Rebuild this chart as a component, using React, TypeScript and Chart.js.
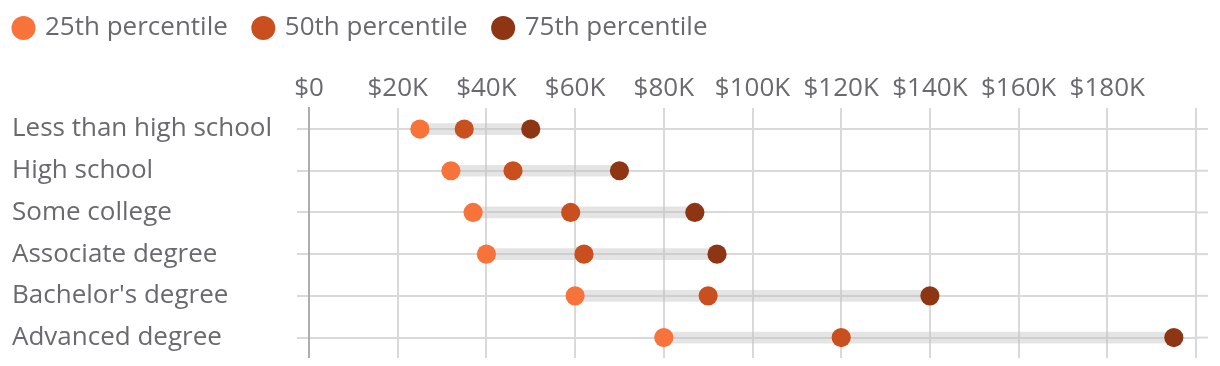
import React, { useEffect, useRef } from "react";
import { Chart, registerables } from "chart.js";

Chart.register(...registerables);

const categories = [
  "Less than high school",
  "High school",
  "Some college",
  "Associate degree",
  "Bachelor's degree",
  "Advanced degree",
];
const p25 = [25000, 32000, 37000, 40000, 60000, 80000];
const p50 = [35000, 46000, 59000, 62000, 90000, 120000];
const p75 = [50000, 70000, 87000, 92000, 140000, 195000];
const seriesNames = ["25th percentile", "50th percentile", "75th percentile"];
const seriesColors = ["#F7733A", "#CA4F1F", "#8E3614"];
const xMin = 0;
const xMax = 200000;
const xStep = 20000;

const FONT = "'Open Sans', sans-serif";
const FS = 26;
const TEXT = "#686a6e";
const GRID = "#d9d9d9";

const gridExtend = {
  id: "gridExtend",
  afterLayout(chart: any) {
    if (chart.legend) chart.legend.left -= 24;
  },
  beforeDatasetsDraw(chart: any) {
    const { ctx, chartArea, scales } = chart;
    const y = scales.y;
    ctx.save();
    ctx.strokeStyle = GRID;
    ctx.lineWidth = 2;
    categories.forEach((_, i) => {
      const py = y.getPixelForValue(i);
      ctx.beginPath();
      ctx.moveTo(chartArea.right, py);
      ctx.lineTo(chartArea.right + 12, py);
      ctx.stroke();
    });
    ctx.restore();
  },
};

export default function App() {
  const ref = useRef<HTMLCanvasElement | null>(null);
  useEffect(() => {
    if (!ref.current) return;
    const sets = [p25, p50, p75];
    let alive = true;
    const chart = new Chart(ref.current, {
      type: "bar",
      data: {
        labels: categories,
        datasets: [
          {
            type: "bar",
            label: "range",
            data: categories.map((_, i) => [p25[i], p75[i]]),
            backgroundColor: "rgba(190,190,190,0.42)",
            borderWidth: 0,
            borderSkipped: false,
            barThickness: 11,
            order: 10,
          } as any,
          ...sets.map((s, k) => ({
            type: "scatter",
            label: seriesNames[k],
            data: s.map((v, i) => ({ x: v, y: categories[i] })),
            backgroundColor: seriesColors[k],
            borderColor: seriesColors[k],
            borderWidth: 0,
            pointRadius: 9.6,
            pointHoverRadius: 9.6,
            order: 1,
          })) as any,
        ],
      },
      options: {
        indexAxis: "y",
        animation: false,
        responsive: true,
        maintainAspectRatio: false,
        layout: { padding: { left: 4, right: 16, top: -20, bottom: 0 } },
        plugins: {
          legend: {
            position: "top",
            align: "start",
            labels: {
              filter: (item: any) => item.text !== "range",
              usePointStyle: true,
              pointStyle: "circle",
              boxWidth: 17,
              boxHeight: 17,
              padding: 27,
              color: TEXT,
              font: { family: FONT, size: FS },
            },
          },
          tooltip: { enabled: false },
        },
        scales: {
          x: {
            type: "linear",
            position: "top",
            min: xMin,
            max: xMax,
            ticks: {
              stepSize: xStep,
              color: TEXT,
              font: { family: FONT, size: FS },
              padding: 4,
              maxRotation: 0,
              callback: (v: any) =>
                v >= xMax ? "" : v === 0 ? "$0" : `$${v / 1000}K`,
            },
            afterFit: (scale: any) => {
              scale.height += 18;
            },
            grid: { color: GRID, lineWidth: 2, drawTicks: false },
            border: { display: false },
          },
          y: {
            type: "category",
            ticks: {
              crossAlign: "far",
              color: TEXT,
              font: { family: FONT, size: FS },
              padding: 21,
            },
            afterFit: (scale: any) => {
              scale.paddingTop = 0;
              scale.paddingBottom = 0;
              scale.width = 297;
            },
            grid: {
              color: GRID,
              lineWidth: 2,
              tickLength: 12,
              drawTicks: true,
              offset: false,
            },
            border: { display: true, color: "#adadad", width: 2 },
          },
        },
      },
      plugins: [gridExtend],
    } as any);
    const fonts: any = (document as any).fonts;
    if (fonts && fonts.ready) {
      fonts.ready.then(() => {
        if (alive) chart.update();
      });
    }
    return () => {
      alive = false;
      chart.destroy();
    };
  }, []);
  return (
    <div style={{ position: "relative", width: "100%", height: 360, marginBottom: -10 }}>
      <canvas ref={ref} />
    </div>
  );
}
